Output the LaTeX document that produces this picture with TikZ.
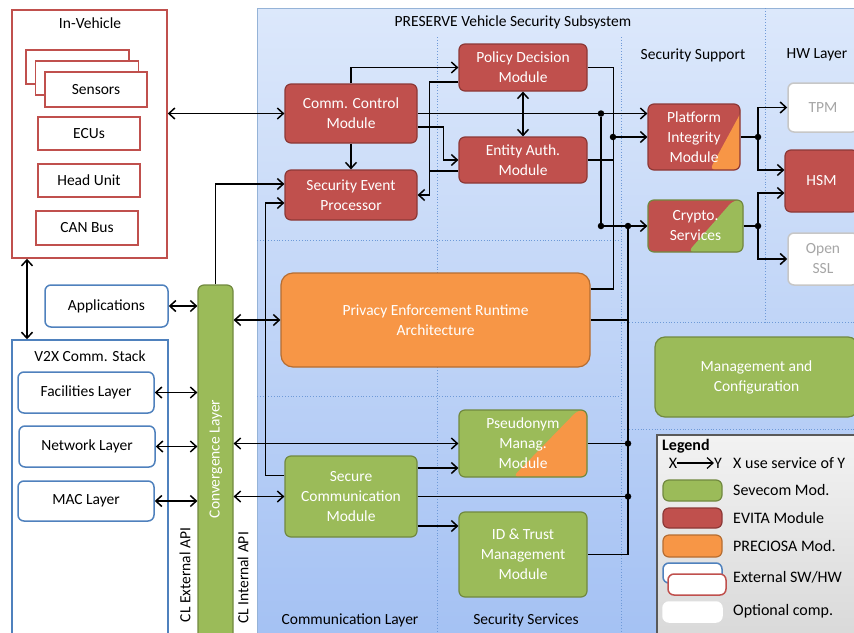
\documentclass[tikz,border=0pt]{standalone}
\usepackage{fontspec}
\setmainfont{Carlito}
\usetikzlibrary{arrows.meta,calc}
\definecolor{evred}{HTML}{C0504D}
\definecolor{evredd}{HTML}{8C3836}
\definecolor{svgreen}{HTML}{9BBB59}
\definecolor{svgreend}{HTML}{71893F}
\definecolor{prorange}{HTML}{F79646}
\definecolor{prorangd}{HTML}{B66D31}
\definecolor{extblue}{HTML}{4F81BD}
\definecolor{bgtop}{HTML}{DCE8FB}
\definecolor{bgbot}{HTML}{A4C1F3}
\definecolor{divblue}{HTML}{6F9AD8}
\tikzstyle{mod}=[rectangle, rounded corners=6pt, draw, line width=1.2pt, text=white, align=center, inner sep=0pt]
\tikzstyle{evita}=[mod, fill=evred, draw=evredd]
\tikzstyle{sevecom}=[mod, fill=svgreen, draw=svgreend]
\tikzstyle{preciosa}=[mod, fill=prorange, draw=prorangd]
\tikzstyle{ext}=[rectangle, rounded corners=6pt, draw=extblue, line width=1.5pt, fill=white, align=center, inner sep=0pt]
\tikzstyle{inv}=[rectangle, draw=evred, line width=1.5pt, fill=white, align=center, inner sep=0pt]
\tikzstyle{opt}=[rectangle, rounded corners=6pt, draw=black!22, line width=1.5pt, fill=white, text=black!35, align=center, inner sep=0pt]
\tikzstyle{subsys}=[rectangle, draw=extblue!60, line width=1pt, top color=bgtop, bottom color=bgbot, inner sep=0pt]
\tikzstyle{legendbox}=[rectangle, draw=black!65, line width=1.5pt, top color=black!5, bottom color=black!15, inner sep=0pt]
\tikzstyle{div}=[draw=divblue, dotted, line width=0.8pt]
\tikzstyle{edge}=[->, line width=1.5pt]
\tikzstyle{both}=[<->, line width=1.5pt]
\tikzstyle{link}=[-, line width=1.5pt]
\tikzstyle{dot}=[circle, fill=black, inner sep=0pt, minimum size=6.5pt]
\tikzstyle{lgd}=[anchor=west, inner sep=0pt, font=\fontsize{16}{19}\selectfont]
\tikzset{corner/.style n args={3}{path picture={\fill[#1] ($(path picture bounding box.north east)!#2!(path picture bounding box.north west)$) -- (path picture bounding box.north east) -- (path picture bounding box.south east) -- ($(path picture bounding box.south east)!#3!(path picture bounding box.south west)$) -- cycle;}}}
\begin{document}
\begin{tikzpicture}[x=1pt,y=-1pt,font=\fontsize{15.5}{20}\selectfont,>={Straight Barb[length=6pt,width=11pt]}]
	\useasboundingbox (0,0) rectangle (854,632);

	%The subsystem background
	\draw (558.5,324) node[subsys, minimum width=603pt, minimum height=632pt] (pres) {};
	\draw (513,22) node (prestitle) {PRESERVE Vehicle Security Subsystem};
	\draw[div] (437,37) -- (437,640);
	\draw[div] (621,37) -- (621,640);
	\draw[div] (765,8) -- (765,322);
	\draw[div] (257,240) -- (621,240);
	\draw[div] (257,396) -- (621,396);
	\draw[div] (621,322) -- (860,322);
	\draw[div] (621,429) -- (860,429);
	\draw (693,55) node (secsupp) {Security Support};
	\draw (817,55) node (hwlayer) {HW Layer};
	\draw (350,620) node (commlayer) {Communication Layer};
	\draw (526,620) node (secserv) {Security Services};

	%The in-vehicle side
	\draw (89.5,134) node[inv, minimum width=155pt, minimum height=248pt] (inveh) {};
	\draw (90,23) node (invehtitle) {In-Vehicle};
	\draw (77.5,67) node[inv, minimum width=103pt, minimum height=34pt] (sens3) {};
	\draw (87,78) node[inv, minimum width=103pt, minimum height=34pt] (sens2) {};
	\draw (96,89.5) node[inv, minimum width=102pt, minimum height=35pt] (sens) {Sensors};
	\draw (89,133.5) node[inv, minimum width=102pt, minimum height=33pt] (ecu) {ECUs};
	\draw (89,180.5) node[inv, minimum width=102pt, minimum height=33pt] (hu) {Head Unit};
	\draw (87,228) node[inv, minimum width=102pt, minimum height=34pt] (can) {CAN Bus};

	%The V2X stack
	\draw (106.5,306) node[ext, minimum width=123pt, minimum height=42pt] (apps) {Applications};
	\draw (90,495) node[ext, sharp corners, minimum width=156pt, minimum height=310pt] (v2x) {};
	\draw (90,356) node (v2xtitle) {V2X Comm. Stack};
	\draw (86,392.5) node[ext, minimum width=136pt, minimum height=41pt] (fac) {Facilities Layer};
	\draw (87,446.5) node[ext, minimum width=136pt, minimum height=41pt] (net) {Network Layer};
	\draw (86,501) node[ext, minimum width=136pt, minimum height=40pt] (mac) {MAC Layer};

	%The convergence layer
	\draw (215.5,465) node[sevecom, minimum width=35pt, minimum height=360pt] (cl) {};
	\draw (216,459) node[rotate=90, text=white] (cltext) {Convergence Layer};
	\draw (185,575) node[rotate=90] (clext) {CL External API};
	\draw (243,578) node[rotate=90] (clint) {CL Internal API};

	%The modules
	\draw (351,113.5) node[evita, minimum width=132pt, minimum height=59pt] (ccm) {Comm. Control\\Module};
	\draw (351,195) node[evita, minimum width=132pt, minimum height=50pt] (sep) {Security Event\\Processor};
	\draw (523,67.5) node[evita, minimum width=128pt, minimum height=47pt] (pdm) {Policy Decision\\Module};
	\draw (523,160) node[evita, minimum width=128pt, minimum height=46pt] (eam) {Entity Auth.\\Module};
	\draw (694,137) node[evita, corner={prorange}{-0.06}{0.33}, minimum width=92pt, minimum height=66pt] (pim) {Platform\\Integrity\\Module};
	\draw (695.5,226) node[evita, draw=svgreend, corner={svgreen}{0.1}{0.58}, minimum width=95pt, minimum height=52pt] (cry) {Crypto.\\Services};
	\draw (823,107.5) node[opt, minimum width=70pt, minimum height=49pt] (tpm) {TPM};
	\draw (821.5,181) node[evita, minimum width=73pt, minimum height=62pt] (hsm) {HSM};
	\draw (823,259) node[opt, minimum width=70pt, minimum height=52pt] (ossl) {Open\\SSL};
	\draw (435.5,320) node[preciosa, rounded corners=12pt, minimum width=309pt, minimum height=94pt] (pera) {Privacy Enforcement Runtime\\Architecture};
	\draw (523,443.5) node[sevecom, corner={prorange}{0.07}{0.58}, minimum width=128pt, minimum height=67pt] (psm) {Pseudonym\\Manag.\\Module};
	\draw (351,496.5) node[sevecom, minimum width=132pt, minimum height=81pt] (scm) {Secure\\Communication\\Module};
	\draw (523,554.5) node[sevecom, minimum width=128pt, minimum height=85pt] (idt) {ID \& Trust\\Management\\Module};
	\draw (756.5,377) node[sevecom, rounded corners=10pt, minimum width=203pt, minimum height=80pt] (mgmt) {Management and\\Configuration};

	%The junctions
	\draw (601,113.5) node[dot] (ja) {};
	\draw (601,226) node[dot] (jb) {};
	\draw (613,137) node[dot] (jc) {};
	\draw (628,226) node[dot] (jd) {};
	\draw (628,443.5) node[dot] (je) {};
	\draw (628,496.5) node[dot] (jf) {};
	\draw (758,137) node[dot] (jg) {};
	\draw (758,226) node[dot] (jh) {};

	%Links of the in-vehicle side and the stack
	\draw[both] (ccm.west) -- (ccm.west -| inveh.east);
	\draw[both] ([xshift=-62.5pt]inveh.south) -- ([xshift=-62.5pt]inveh.south |- v2x.north);
	\draw[both] (apps.east) -- (apps.east -| cl.west);
	\draw[both] (fac.east) -- (fac.east -| cl.west);
	\draw[both] (net.east) -- (net.east -| cl.west);
	\draw[both] (mac.east) -- (mac.east -| cl.west);
	\draw[both] (pera.west) -- (pera.west -| cl.east);
	\draw[both] (psm.west) -- (psm.west -| cl.east);
	\draw[both] (scm.west) -- (scm.west -| cl.east);
	\draw[edge] (cl.north) |- ([yshift=11pt]sep.west);
	\draw[edge] ([yshift=21pt]scm.west) -- ++(-19,0) |- ([yshift=-8pt]sep.west);

	%Links of the control modules
	\draw[edge] (ccm.north) |- (pdm.west);
	\draw[edge] (ccm.south) -- (sep.north);
	\draw[both] (pdm.south) -- (eam.north);
	\draw[edge] ([yshift=-14.5pt]pdm.west) -- ++(-29,0) |- (sep.east);
	\draw[link] ([yshift=-11pt]eam.west) -- ++(-29,0);
	\draw[edge] ([yshift=-13.5pt]ccm.east) -- ++(26,0) |- (eam.west);
	\draw[edge] (ccm.east) -- (ccm.east -| pim.west);
	\draw[link] (ja) -- (jb);
	\draw[edge] (jb) -- (cry.west);

	%The bus to the platform integrity module
	\draw[link] ([yshift=31pt]pera.east) -| ([xshift=26pt]pdm.east) -- (pdm.east);
	\draw[link] (eam.east) -- ++(26,0);
	\draw[edge] (jc) -- (pim.west);

	%The bus to the crypto services
	\draw[link] (jd) |- (idt.east);
	\draw[link] (pera.east) -- (pera.east -| jd);
	\draw[link] (psm.east) -- (je);
	\draw[link] (scm.east) -- (jf);
	\draw[edge] ([yshift=28.5pt]scm.east) -- ([yshift=28.5pt]scm.east -| psm.west);
	\draw[edge] ([yshift=-29.5pt]scm.east) -- ([yshift=-29.5pt]scm.east -| idt.west);

	%The hardware layer
	\draw[link] (pim.east) -- (jg);
	\draw[edge] (jg) |- (tpm.west);
	\draw[edge] (jg) |- ([yshift=11pt]hsm.west);
	\draw[link] (cry.east) -- (jh);
	\draw[edge] (jh) |- ([yshift=-12pt]hsm.west);
	\draw[edge] (jh) |- (ossl.west);

	%The legend
	\draw (758.5,537.5) node[legendbox, minimum width=203pt, minimum height=205pt] (leg) {};
	\draw (662,446) node[lgd] (legtitle) {\bfseries Legend};
	\draw (673,463) node[lgd, anchor=center] (lx) {X};
	\draw (718,463) node[lgd, anchor=center] (ly) {Y};
	\draw[edge, line width=1.2pt] (lx.east) -- (ly.west);
	\draw (733,463) node[lgd] (luse) {X use service of Y};
	\draw (692.5,490.5) node[sevecom, minimum width=59pt, minimum height=21pt] (lsev) {};
	\draw (692.5,518) node[evita, minimum width=59pt, minimum height=20pt] (levi) {};
	\draw (692.5,546) node[preciosa, minimum width=59pt, minimum height=22pt] (lpre) {};
	\draw (692.5,573) node[ext, minimum width=59pt, minimum height=20pt] (lext) {};
	\draw (697,584.5) node[inv, rounded corners=6pt, minimum width=58pt, minimum height=21pt] (lext2) {};
	\draw (692.5,612) node[opt, draw=white, minimum width=59pt, minimum height=20pt] (lopt) {};
	\draw (733,490.5) node[lgd] (lsevtext) {Sevecom Mod.};
	\draw (733,518) node[lgd] (levitext) {EVITA Module};
	\draw (733,546) node[lgd] (lpretext) {PRECIOSA Mod.};
	\draw (733,577) node[lgd] (lexttext) {External SW/HW};
	\draw (733,611) node[lgd] (lopttext) {Optional comp.};
\end{tikzpicture}
\end{document}
